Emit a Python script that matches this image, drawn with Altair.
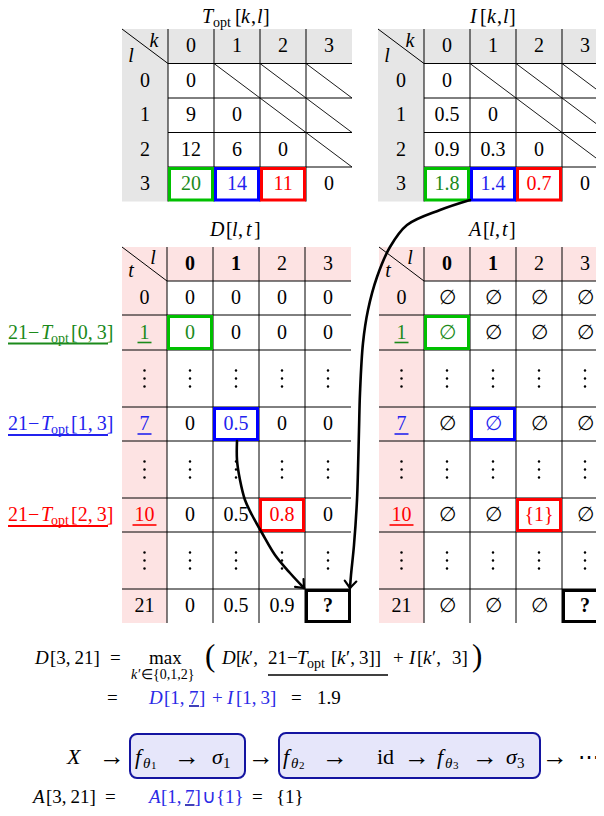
import altair as alt
import pandas as pd
import numpy as np

# ------------------------------------------------------------------ values
TOP_HEAD = ["0", "1", "2", "3"]                       # k (columns) and l (rows)
T_OPT = [["0"], ["9", "0"], ["12", "6", "0"], ["20", "14", "11", "0"]]
I_KL = [["0"], ["0.5", "0"], ["0.9", "0.3", "0"], ["1.8", "1.4", "0.7", "0"]]
BOT_HEAD = ["0", "1", "2", "3"]                       # l (columns)
BOT_HEAD_BOLD = [True, True, False, False]
T_ROWS = ["0", "1", None, "7", None, "10", None, "21"]  # t (rows), None = elided
D_LT = [["0", "0", "0", "0"], ["0", "0", "0", "0"], None, ["0", "0.5", "0", "0"], None,
        ["0", "0.5", "0.8", "0"], None, ["0", "0.5", "0.9", "?"]]
A_LT = [["∅"] * 4, ["∅"] * 4, None, ["∅"] * 4, None,
        ["∅", "∅", "{1}", "∅"], None, ["∅", "∅", "∅", "?"]]
T_TOTAL = "21"
PRED = [0, 1, 2]            # candidate k'
PRED_ROW = [1, 3, 5]        # row of t = 21 - T_opt[k',3]  ->  1, 7, 10
TARGET = (7, 3)             # D[3,21] / A[3,21]

# ------------------------------------------------------------------ style
FONT = "Liberation Serif"
BLACK = "#000000"
GREY = "#e6e6e6"
PINK = "#fde3e3"
GREEN_BOX, GREEN_TXT = "#00c000", "#1b8a1b"
BLUE_BOX, BLUE_TXT = "#0000ff", "#2323ee"
RED = "#ff0000"
PRED_BOX = [GREEN_BOX, BLUE_BOX, RED]
PRED_TXT = [GREEN_TXT, BLUE_TXT, RED]
LAV, NAVY = "#e6e6fa", "#1414a0"

CW = 46
TOP_Y = [29, 63.5, 98, 132.5, 167, 201.5]
BOT_Y = [247, 281, 315, 350, 407, 441, 498, 532, 589, 623]

texts, rules, bgs, boxes, dots = [], [], [], [], []


def T(x, y, s, st="rm", al="left", size=20, color=BLACK):
    texts.append(dict(x=x, y=y, text=s, st=st, al=al, size=size, color=color))


def R(x, y, x2, y2, w=1.0, color=BLACK):
    rules.append(dict(x=x, y=y, x2=x2, y2=y2, w=w, color=color))


def BG(x, y, x2, y2, color):
    bgs.append(dict(x=x, y=y, x2=x2, y2=y2, color=color))


def BOX(x, y, x2, y2, color, w=3):
    h = w / 2
    boxes.append(dict(x=x + h, y=y + h, x2=x2 - h, y2=y2 - h, color=color))


def top_table(L, hw, vals):
    xs = [L, L + hw] + [L + hw + CW * i for i in range(1, 5)]
    ys = TOP_Y
    BG(L, ys[0], xs[5], ys[1], GREY)
    BG(L, ys[0], xs[1], ys[5], GREY)
    for xv in xs[1:5]:
        R(xv, ys[0], xv, ys[5])
    for yv in ys[1:5]:
        R(xs[1], yv, xs[5], yv)
    R(L, ys[0], xs[1], ys[1])
    T(L + 32, ys[0] + 12, "k", "it", "center")
    T(L + 9, ys[0] + 27, "l", "it", "center")
    for c, h in enumerate(TOP_HEAD):
        T((xs[c + 1] + xs[c + 2]) / 2, (ys[0] + ys[1]) / 2, h, al="center")
    for r, h in enumerate(TOP_HEAD):
        cy = (ys[r + 1] + ys[r + 2]) / 2
        T((xs[0] + xs[1]) / 2, cy, h, al="center")
        for c in range(4):
            x0, x1 = xs[c + 1], xs[c + 2]
            if c > r:
                R(x0, ys[r + 1], x1, ys[r + 2], 0.9)
                continue
            col = BLACK
            if r == 3 and c in PRED:
                col = PRED_TXT[c]
                BOX(x0, ys[r + 1], x1, ys[r + 2], PRED_BOX[c])
            T((x0 + x1) / 2, cy, vals[r][c], al="center", color=col)


def bot_table(L, hw, vals):
    xs = [L, L + hw] + [L + hw + CW * i for i in range(1, 5)]
    ys = BOT_Y
    BG(L, ys[0], xs[5], ys[1], PINK)
    BG(L, ys[0], xs[1], ys[-1], PINK)
    for xv in xs[1:5]:
        R(xv, ys[0], xv, ys[-1])
    R(xs[1], ys[1], xs[5], ys[1])
    for yv in ys[2:-1]:
        R(L, yv, xs[5], yv)
    R(L, ys[0], xs[1], ys[1])
    T(L + 31, ys[0] + 11, "l", "it", "center")
    T(L + 9, ys[0] + 24, "t", "it", "center")
    for c, h in enumerate(BOT_HEAD):
        T((xs[c + 1] + xs[c + 2]) / 2, (ys[0] + ys[1]) / 2, h,
          "bf" if BOT_HEAD_BOLD[c] else "rm", "center")
    for r, lab in enumerate(T_ROWS):
        cy = (ys[r + 1] + ys[r + 2]) / 2
        hx = (xs[0] + xs[1]) / 2
        if lab is None:
            for cx in [hx] + [(xs[c + 1] + xs[c + 2]) / 2 for c in range(4)]:
                for dy in (-8, 0, 8):
                    dots.append(dict(x=cx, y=cy + dy))
            continue
        col = BLACK
        if r in PRED_ROW:
            k = PRED_ROW.index(r)
            col = PRED_TXT[k]
            half = 5 * len(lab) + 2
            R(hx - half, cy + 10, hx + half, cy + 10, 1.6, col)
        T(hx, cy, lab, al="center", color=col)
        for c in range(4):
            x0, x1 = xs[c + 1], xs[c + 2]
            v = vals[r][c]
            tc, st = BLACK, "rm"
            if r in PRED_ROW and c == PRED_ROW.index(r):
                tc = PRED_TXT[c]
                BOX(x0, ys[r + 1], x1, ys[r + 2], PRED_BOX[c])
            if (r, c) == TARGET:
                st = "bf"
                BOX(x0, ys[r + 1], x1, ys[r + 2], BLACK)
            T((x0 + x1) / 2, cy, v, st, "center", color=tc)


top_table(122, 46, T_OPT)
top_table(378, 46, I_KL)
bot_table(122, 45, D_LT)
bot_table(379, 45, A_LT)

# titles
ty = 17
T(202, ty, "T", "it"); T(213, ty + 6, "opt", size=14); T(235, ty, "["); T(241, ty, "k", "it")
T(251, ty, ","); T(257, ty, "l", "it"); T(263, ty, "]")
T(470, ty, "I", "it"); T(480, ty, "["); T(487, ty, "k", "it"); T(497, ty, ",")
T(503, ty, "l", "it"); T(509, ty, "]")
T(210, 230, "D", "it"); T(226, 230, "["); T(232, 230, "l", "it"); T(238, 230, ",")
T(246, 230, "t", "it"); T(254, 230, "]")
T(469, 230, "A", "it"); T(483, 230, "["); T(489, 230, "l", "it"); T(495, 230, ",")
T(502, 230, "t", "it"); T(509, 230, "]")

# left labels 21 - T_opt[k',3]
for k in PRED:
    r = PRED_ROW[k]
    cy = (BOT_Y[r + 1] + BOT_Y[r + 2]) / 2
    c = PRED_TXT[k]
    T(8, cy, T_TOTAL + "−", color=c)
    T(41, cy, "T", "it", color=c)
    T(51, cy + 6, "opt", size=14, color=c)
    T(71, cy, "[" + str(k) + ",\u20093]", color=c)
    R(8, cy + 11, 108, cy + 11, 2, c)

# equation line 1
F = 19
y = 658
T(35, y, "D", "it", size=F); T(50, y, "[3,\u200921]", size=F); T(110, y, "=", size=F)
T(149, y, "max", size=F)
T(131, 675, "k", "it", size=14); T(138, 675, "′∈{0,1,2}", size=14)
T(205, 657, "(", size=31)
T(222, y, "D", "it", size=F); T(236, y, "[", size=F); T(241, y, "k", "it", size=F)
T(249, y, "′,", size=F); T(268, y, T_TOTAL + "−", size=F); T(297, y, "T", "it", size=F)
T(307, y + 6, "opt", size=14); T(331, y, "[", size=F); T(337, y, "k", "it", size=F)
T(346, y, "′,", size=F); T(359, y, "3]]", size=F); T(393, y, "+", size=F)
T(409, y, "I", "it", size=F); T(417, y, "[", size=F); T(423, y, "k", "it", size=F)
T(432, y, "′,", size=F); T(452, y, "3]", size=F)
T(472, 657, ")", size=31)
R(268, 675, 388, 675, 1.3)

# equation line 2
y = 698
EQB = "#2a2ae6"
T(107, y, "=", size=F)
T(149, y, "D", "it", size=F, color=EQB); T(164, y, "[1,\u2009", size=F, color=EQB)
T(189, y, "7", size=F, color=EQB); T(199, y, "]", size=F, color=EQB)
T(212, y, "+", size=F, color=EQB); T(227, y, "I", "it", size=F, color=EQB)
T(236, y, "[1,\u20093]", size=F, color=EQB)
T(291, y, "=", size=F); T(317, y, "1.9", size=F)
R(189, 706, 199, 706, 1.5, "#0000a0")

# network line
y = 757
G = 22
T(67, y, "X", "it", size=G)
for cx in (112, 187, 261, 335, 417, 485, 555):
    T(cx, y, "→", al="center", size=26)
T(135, y, "f", "it", size=G); T(143, y + 6, "θ", "it", size=15); T(151, y + 9, "1", size=11)
T(212, y, "σ", "it", size=G); T(223, y + 6, "1", size=15)
T(283, y, "f", "it", size=G); T(291, y + 6, "θ", "it", size=15); T(299, y + 9, "2", size=11)
T(377, y, "id", size=G)
T(437, y, "f", "it", size=G); T(445, y + 6, "θ", "it", size=15); T(453, y + 9, "3", size=11)
T(506, y, "σ", "it", size=G); T(517, y + 6, "3", size=15)
T(578, y, "⋯", size=G)
blocks = pd.DataFrame([dict(x=130, y=734, x2=245, y2=778), dict(x=279, y=733, x2=540, y2=778)])

# A line
y = 797
T(33, y, "A", "it", size=F); T(46, y, "[3,\u200921]", size=F); T(105, y, "=", size=F)
T(149, y, "A", "it", size=F, color=EQB); T(161, y, "[1,\u2009", size=F, color=EQB)
T(185, y, "7", size=F, color=EQB); T(194.5, y, "]", size=F, color=EQB)
T(202, y, "∪", size=F, color=EQB); T(216, y, "{1}", size=F, color=EQB)
T(252, y, "=", size=F); T(276, y, "{1}", size=F)
R(185, 805, 194.5, 805, 1.5, "#0000a0")

# arrows (curves)
ARROW_I = [(470, 200), (440, 210), (407, 225), (390, 247), (377, 277), (368, 310), (363, 343),
           (360, 393), (359, 430), (358, 470), (357, 500), (354, 545), (351, 575), (350, 588)]
ARROW_D = [(237, 441), (237, 460), (240, 480), (245, 500), (252, 515), (262, 533),
           (275, 555), (290, 573), (304, 588)]
arrow_rows, head_rows = [], []
for aid, pts in enumerate([ARROW_I, ARROW_D]):
    for i, (px, py) in enumerate(pts):
        arrow_rows.append(dict(id=aid, i=i, x=px, y=py))
    tip = np.array(pts[-1], float)
    d = tip - np.array(pts[-2], float)
    d /= np.linalg.norm(d)
    for s, ang in enumerate((0.7, -0.7)):
        rot = np.array([[np.cos(ang), -np.sin(ang)], [np.sin(ang), np.cos(ang)]])
        w = tip - 9 * rot.dot(d)
        head_rows.append(dict(id=f"{aid}-{s}", i=0, x=w[0], y=w[1]))
        head_rows.append(dict(id=f"{aid}-{s}", i=1, x=tip[0], y=tip[1]))

# ------------------------------------------------------------------ chart
XS = alt.Scale(domain=[8, 596], nice=False, zero=False)
YS = alt.Scale(domain=[808, 8], nice=False, zero=False)
X = alt.X("x:Q", scale=XS, axis=None)
Y = alt.Y("y:Q", scale=YS, axis=None)
X2 = alt.X2("x2:Q")
Y2 = alt.Y2("y2:Q")
NC = lambda f: alt.Color(f, scale=None)

layers = []
layers.append(alt.Chart(pd.DataFrame(bgs)).mark_rect().encode(x=X, x2=X2, y=Y, y2=Y2, color=NC("color:N")))
layers.append(alt.Chart(pd.DataFrame(rules)).mark_rule().encode(
    x=X, x2=X2, y=Y, y2=Y2, color=NC("color:N"), size=alt.Size("w:Q", scale=None)))
layers.append(alt.Chart(blocks).mark_rect(cornerRadius=7, fill=LAV, stroke=NAVY, strokeWidth=2)
              .encode(x=X, x2=X2, y=Y, y2=Y2))
layers.append(alt.Chart(pd.DataFrame(dots)).mark_circle(size=6, color=BLACK, opacity=1).encode(x=X, y=Y))

tdf = pd.DataFrame(texts)
for (st, al), sub in tdf.groupby(["st", "al"]):
    kw = dict(font=FONT, align=al, baseline="middle")
    if st == "it":
        kw["fontStyle"] = "italic"
    if st == "bf":
        kw["fontWeight"] = "bold"
    layers.append(alt.Chart(sub).mark_text(**kw).encode(
        x=X, y=Y, text="text:N", size=alt.Size("size:Q", scale=None), color=NC("color:N")))

layers.append(alt.Chart(pd.DataFrame(boxes)).mark_rect(filled=False, strokeWidth=3).encode(
    x=X, x2=X2, y=Y, y2=Y2, color=NC("color:N")))
layers.append(alt.Chart(pd.DataFrame(arrow_rows)).mark_line(
    interpolate="catmull-rom", strokeWidth=2.6, color=BLACK, strokeCap="round").encode(
    x=X, y=Y, order="i:Q", detail="id:N"))
layers.append(alt.Chart(pd.DataFrame(head_rows)).mark_line(
    strokeWidth=2.2, color=BLACK, strokeCap="round").encode(x=X, y=Y, order="i:Q", detail="id:N"))

chart = alt.layer(*layers).properties(
    width=588, height=800, padding=0, autosize="none", background="white"
).configure_view(stroke=None)

chart.save("out.html", embed_options={"renderer": "svg", "actions": False})
